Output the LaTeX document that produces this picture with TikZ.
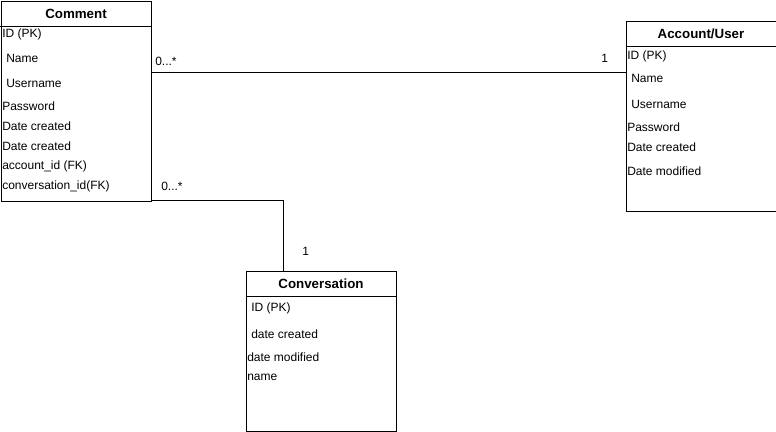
\documentclass[tikz,border=0pt]{standalone}
\usepackage{fontspec}
\setmainfont{Liberation Sans}
\usetikzlibrary{positioning,calc}
\tikzset{
  entbox/.style={draw, line width=0.75pt, anchor=north west, inner sep=0pt},
  enttitle/.style={inner sep=0pt, font=\fontsize{10}{12}\selectfont\bfseries},
  attr/.style={anchor=west, inner sep=0pt, font=\fontsize{9}{11}\selectfont},
  mult/.style={anchor=west, inner sep=0pt, font=\fontsize{9}{11}\selectfont},
  link/.style={line width=0.75pt}
}
\newcommand{\entity}[6]{\node[entbox, minimum width=#4*0.75pt, minimum height=#5*0.75pt] (#1) at (#2,#3) {};
					\draw[line width=0.75pt] (#1.north west) ++(0,25) -- ++(#4,0);
					\node[enttitle] (#1-title) at ($(#1.north)+(0,12.5)$) {#6};}

\begin{document}
\begin{tikzpicture}[x=0.75pt, y=-0.75pt]
				\useasboundingbox (0,0) rectangle (776,432);

					% tables
					\entity{comment}{0.5}{1}{150}{200}{Comment}
					\entity{account}{625.5}{21}{150}{190}{Account/User}
					\entity{conversation}{245.5}{271}{150}{160}{Conversation}

					% Comment
					\node[attr] (c-id) at (2,34) {ID (PK)};
					\node[attr] (c-name) at (6,58) {Name};
					\node[attr] (c-user) at (6,83) {Username};
					\node[attr] (c-pass) at (2,106) {Password};
					\node[attr] (c-date1) at (2,126) {Date created};
					\node[attr] (c-date2) at (2,146) {Date created};
					\node[attr] (c-acc) at (2,166) {account\_id (FK)};
					\node[attr] (c-conv) at (2,186) {conversation\_id(FK)};

					% Account/User
					\node[attr] (a-id) at (627,56) {ID (PK)};
					\node[attr] (a-name) at (631,78) {Name};
					\node[attr] (a-user) at (631,104) {Username};
					\node[attr] (a-pass) at (627,127) {Password};
					\node[attr] (a-created) at (627,147) {Date created};
					\node[attr] (a-modified) at (627,171) {Date modified};

					% Conversation
					\node[attr] (v-id) at (251,308) {ID (PK)};
					\node[attr] (v-created) at (251,334) {date created};
					\node[attr] (v-modified) at (247,357) {date modified};
					\node[attr] (v-name) at (247,377) {name};

					% relations
					\draw[link] (comment.east |- 0,72) -- (account.west |- 0,72);
					\draw[link] (comment.south east) ++(0,-2) -| ($(conversation.north west)+(38,0)$);

					\node[mult] (m-ca) at (155,61) {0...*};
					\node[mult] (m-ac) at (601,58) {1};
					\node[mult] (m-cv) at (161,186) {0...*};
					\node[mult] (m-vc) at (302,251) {1};

				\end{tikzpicture}
\end{document}
